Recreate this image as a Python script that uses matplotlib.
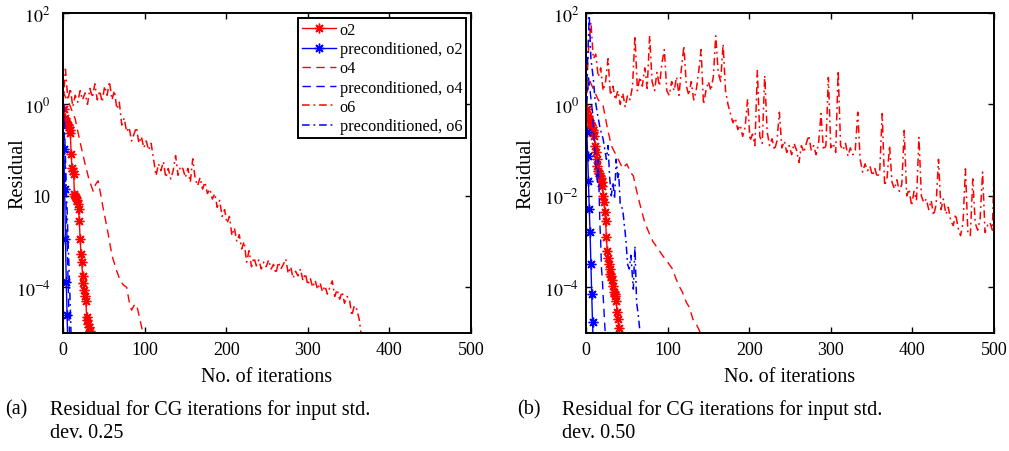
import matplotlib
matplotlib.use('Agg')
import numpy as np
import matplotlib.pyplot as plt
from matplotlib.ticker import FixedLocator, FixedFormatter, NullLocator

plt.rcParams['font.family'] = ['Liberation Serif', 'DejaVu Serif']
plt.rcParams['mathtext.fontset'] = 'stix'

# ---- данные (log10 невязки) ----
# (a) std. dev. 0.25
a_o2_it = list(range(1, 35))
a_o2 = [-0.10, -0.30, -0.35, -0.38, -0.42, -0.45, -0.50, -0.55, -0.62, -1.09,
        -1.40, -1.45, -1.52, -1.95, -2.00, -2.05, -2.10, -2.18, -2.29, -2.55,
        -2.95, -3.27, -3.45, -3.75, -3.90, -4.05, -4.19, -4.30, -4.65, -4.72,
        -4.80, -4.87, -4.95, -5.05]
a_po2_it = [1, 2, 3, 4, 5, 6]
a_po2 = [-0.98, -1.85, -2.95, -3.89, -4.60, -5.30]
a_o4_it = [0, 2, 8, 15, 21, 27, 32, 37, 40, 43, 46, 49, 54, 60, 65, 70, 74, 78,
           81, 84, 87, 90, 93, 96, 99]
a_o4 = [0.3, 0.2, 0.0, -0.32, -0.83, -1.3, -1.65, -1.9, -1.75, -1.67, -1.95,
        -2.25, -2.7, -3.3, -3.6, -3.85, -3.95, -4.0, -4.3, -4.5, -4.4, -4.37,
        -4.6, -4.84, -5.1]
a_po4_it = [1, 2, 3, 4, 5, 6, 7, 8]
a_po4 = [-0.3, -0.9, -1.6, -2.3, -3.0, -3.7, -4.4, -5.1]
a_o6_it = list(range(0, 364, 3)) + [365]
a_o6 = [0.0, 0.77, 0.1, 0.35, -0.05, 0.2, 0.05, 0.3, 0.1, 0.25,
        0.0, 0.35, 0.15, 0.45, 0.1, 0.3, 0.05, 0.4, 0.2, 0.5,
        0.1, 0.3, -0.1, 0.05, -0.45, -0.3, -0.6, -0.5, -0.8, -0.65,
        -0.5, -0.85, -0.7, -0.95, -0.8, -1.0, -0.85, -1.2, -1.56, -1.3,
        -1.45, -1.25, -1.6, -1.4, -1.63, -1.45, -1.12, -1.55, -1.35, -1.41,
        -1.6, -1.4, -1.7, -1.19, -1.63, -1.78, -1.6, -1.85, -1.7, -1.95,
        -1.85, -2.07, -1.95, -2.25, -2.1, -2.45, -2.3, -2.6, -2.45, -2.87,
        -2.7, -3.0, -2.85, -3.16, -3.0, -3.45, -3.2, -3.55, -3.35, -3.53,
        -3.4, -3.6, -3.45, -3.55, -3.4, -3.6, -3.5, -3.7, -3.45, -3.6,
        -3.5, -3.38, -3.7, -3.55, -3.8, -3.65, -3.75, -3.6, -3.85, -3.7,
        -3.95, -3.8, -4.0, -3.85, -4.05, -3.9, -4.1, -3.97, -4.15, -4.0,
        -3.86, -4.2, -4.05, -4.26, -4.1, -4.35, -4.2, -4.26, -4.62, -4.4,
        -4.48, -4.7, -4.98]
a_po6_it = [1, 2, 3, 4, 5, 6, 7, 8, 9, 10]
a_po6 = [0.0, -0.6, -1.2, -1.8, -2.3, -2.9, -3.4, -3.9, -4.5, -5.1]

# (b) std. dev. 0.50
b_o2_it = list(range(1, 42))
b_o2 = [-0.10, -0.25, -0.30, -0.35, -0.40, -0.45, -0.50, -0.55, -0.60, -0.68,
        -0.90, -1.05, -1.20, -1.34, -1.45, -1.50, -1.56, -1.62, -1.70, -1.78,
        -2.00, -2.14, -2.35, -2.54, -2.91, -3.20, -3.35, -3.49, -3.60, -3.70,
        -3.75, -3.85, -3.97, -4.10, -4.15, -4.20, -4.30, -4.55, -4.70, -4.90,
        -5.10]
b_po2_it = [1, 2, 3, 4, 5, 6, 7, 8, 9]
b_po2 = [-0.61, -1.12, -1.67, -2.29, -2.80, -3.49, -4.15, -4.77, -5.30]
b_o4_it = [0, 5, 10, 15, 21, 26, 31, 38, 45, 50, 55, 58, 62, 67, 72, 77, 82,
           88, 94, 100, 106, 110, 114, 118, 123, 127, 131, 135, 139, 142]
b_o4 = [0.2, 0.5, 0.3, 0.1, -0.03, -0.5, -0.9, -1.15, -1.4, -1.3, -1.5, -1.56,
        -1.89, -2.25, -2.58, -2.8, -3.0, -3.15, -3.31, -3.45, -3.6, -3.8,
        -3.97, -4.1, -4.33, -4.45, -4.7, -4.8, -4.95, -5.1]
b_po4_it = [1, 3, 5, 8, 10, 12, 14, 15, 16, 17, 18, 19, 20, 21, 22, 23, 24]
b_po4 = [0.0, 0.6, 0.3, -0.17, -0.8, -1.3, -1.7, -1.2, -1.9, -2.6, -3.0, -3.6,
         -3.8, -4.19, -4.5, -4.84, -5.1]
b_o6_it = list(range(0, 499, 3)) + [500]
b_o6 = [0.0, 1.2, 1.8, 1.0, 1.1, 0.6, 0.8, 0.3, 0.5, 1.0,
        0.2, 0.4, 0.1, 0.3, 0.0, 0.25, -0.05, 0.2, 0.1, 0.4,
        1.5, 0.3, 0.6, 0.4, 0.8, 0.35, 1.5, 0.5, 0.3, 0.7,
        0.4, 0.9, 1.2, 0.3, 0.2, 0.5, 0.3, 0.6, 0.2, 0.8,
        1.28, 0.4, 0.2, 0.5, 0.1, 0.3, 0.7, 1.2, 0.0, 0.3,
        0.5, 0.3, 0.6, 1.5, 0.7, 0.5, 1.32, 0.3, 0.0, -0.2,
        -0.4, -0.3, -0.55, -0.45, -0.7, -0.5, 0.12, -0.8, -0.65, -0.9,
        0.74, -0.7, -0.85, 0.63, -0.6, -0.9, -0.75, -1.0, -0.8, -0.17,
        -0.95, -0.8, -1.05, -0.9, -1.1, -0.85, -1.0, -1.27, -0.9, -1.05,
        -0.85, -0.68, -1.0, -0.9, -1.1, -0.85, -0.2, -1.0, -0.9, 0.59,
        -0.95, -0.85, -1.05, 0.74, -0.9, -1.0, -0.85, -1.13, -0.95, -1.1,
        -1.0, -0.17, -1.2, -1.48, -1.3, -1.45, -1.35, -1.56, -1.4, -1.6,
        -1.45, -0.2, -1.78, -1.6, -0.9, -1.7, -1.85, -1.65, -1.9, -1.75,
        -0.57, -2.0, -1.85, -2.22, -1.9, -2.1, -0.72, -2.0, -2.15, -2.07,
        -2.3, -2.1, -2.43, -2.2, -1.2, -2.3, -2.07, -2.4, -2.25, -2.55,
        -2.65, -2.4, -2.7, -2.87, -2.6, -1.41, -2.8, -2.87, -1.63, -2.6,
        -2.75, -2.5, -1.48, -2.8, -2.65, -2.58, -2.75, -1.48]
b_po6_it = [1, 4, 6, 9, 11, 14, 17, 21, 25, 27, 29, 31, 33, 35, 37, 39, 40, 42,
            45, 47, 48, 49, 51, 53, 55, 58, 60, 62, 64, 66, 67]
b_po6 = [0.5, 1.95, 1.0, 0.56, 0.12, -0.2, -0.5, -0.76, -1.2, -0.9, -1.6, -2.0,
         -1.7, -2.07, -1.2, -1.6, -1.49, -2.2, -2.29, -2.65, -2.8, -3.0, -3.5,
         -3.6, -3.3, -4.04, -3.1, -4.33, -4.6, -4.95, -5.1]

labels = ['o2', 'preconditioned, o2', 'o4', 'preconditioned, o4', 'o6',
          'preconditioned, o6']
yticks_a = ['$10^{-4}$', '10', '$10^{0}$', '$10^{2}$']
yticks_b = ['$10^{-4}$', '$10^{-2}$', '$10^{0}$', '$10^{2}$']

DASH = (0, (6, 4))
DASHDOT = (0, (5, 2.5, 1.2, 2.5))
STAR = (8, 2, 0)  # звёздочка как в MATLAB


def draw_panel(ax, series, ytick_labels, ypad, ylabel_x, legend=False):
    (o2_it, o2, po2_it, po2, o4_it, o4, po4_it, po4, o6_it, o6, po6_it, po6) = series
    ax.plot(o2_it, 10.0 ** np.array(o2), color='#ff0000', lw=1.0, marker=STAR,
            ms=7, mew=1.0, label=labels[0])
    ax.plot(po2_it, 10.0 ** np.array(po2), color='#0000ff', lw=1.0, marker=STAR,
            ms=7, mew=1.0, label=labels[1])
    ax.plot(o4_it, 10.0 ** np.array(o4), color='#ff0000', lw=1.0, ls=DASH,
            label=labels[2])
    ax.plot(po4_it, 10.0 ** np.array(po4), color='#0000ff', lw=1.0, ls=DASH,
            label=labels[3])
    ax.plot(o6_it, 10.0 ** np.array(o6), color='#ff0000', lw=1.1, ls=DASHDOT,
            label=labels[4])
    ax.plot(po6_it, 10.0 ** np.array(po6), color='#0000ff', lw=1.1, ls=DASHDOT,
            label=labels[5])

    ax.set_yscale('log')
    ax.set_xlim(0, 500)
    ax.set_ylim(1e-5, 1e2)
    ax.xaxis.set_major_locator(FixedLocator([0, 100, 200, 300, 400, 500]))
    ax.yaxis.set_major_locator(FixedLocator([1e-4, 1e-2, 1e0, 1e2]))
    ax.yaxis.set_major_formatter(FixedFormatter(ytick_labels))
    ax.yaxis.set_minor_locator(NullLocator())
    ax.tick_params(direction='in', top=True, right=True, length=4, width=1,
                   labelsize=13)
    ax.tick_params(axis='y', pad=ypad)
    ax.tick_params(axis='x', pad=6)
    for sp in ax.spines.values():
        sp.set_linewidth(1.4)
    ax.set_xlabel('No. of iterations', fontsize=14.5, labelpad=6)
    ax.set_ylabel('Residual', fontsize=14.5)
    ax.yaxis.set_label_coords(ylabel_x, 0.5)

    if legend:
        leg = ax.legend(loc='upper right', fontsize=11.7, handlelength=2.1,
                        handletextpad=0.2, labelspacing=0.2, borderpad=0.25,
                        borderaxespad=0.3, fancybox=False, framealpha=1.0,
                        edgecolor='black')
        leg.get_frame().set_linewidth(1.4)


fig = plt.figure(figsize=(10.09, 4.52), dpi=100)
ax1 = fig.add_axes([63 / 1009, 1 - 334 / 452, 408 / 1009, 320 / 452])
ax2 = fig.add_axes([586 / 1009, 1 - 334 / 452, 408 / 1009, 320 / 452])

draw_panel(ax1, (a_o2_it, a_o2, a_po2_it, a_po2, a_o4_it, a_o4, a_po4_it, a_po4,
                 a_o6_it, a_o6, a_po6_it, a_po6), yticks_a, 9, -0.088, legend=True)
draw_panel(ax2, (b_o2_it, b_o2, b_po2_it, b_po2, b_o4_it, b_o4, b_po4_it, b_po4,
                 b_o6_it, b_o6, b_po6_it, b_po6), yticks_b, 5, -0.123)

# подписи под графиками
cap = dict(fontsize=14.5, va='center', ha='left')
fig.text(5 / 1009, 1 - 410 / 452, '(a)', **cap)
fig.text(50 / 1009, 1 - 410 / 452, 'Residual for CG iterations for input std.', **cap)
fig.text(50 / 1009, 1 - 434 / 452, 'dev. 0.25', **cap)
fig.text(517 / 1009, 1 - 410 / 452, '(b)', **cap)
fig.text(562 / 1009, 1 - 410 / 452, 'Residual for CG iterations for input std.', **cap)
fig.text(562 / 1009, 1 - 434 / 452, 'dev. 0.50', **cap)

fig.savefig('out.png', dpi=100)
plt.close(fig)
